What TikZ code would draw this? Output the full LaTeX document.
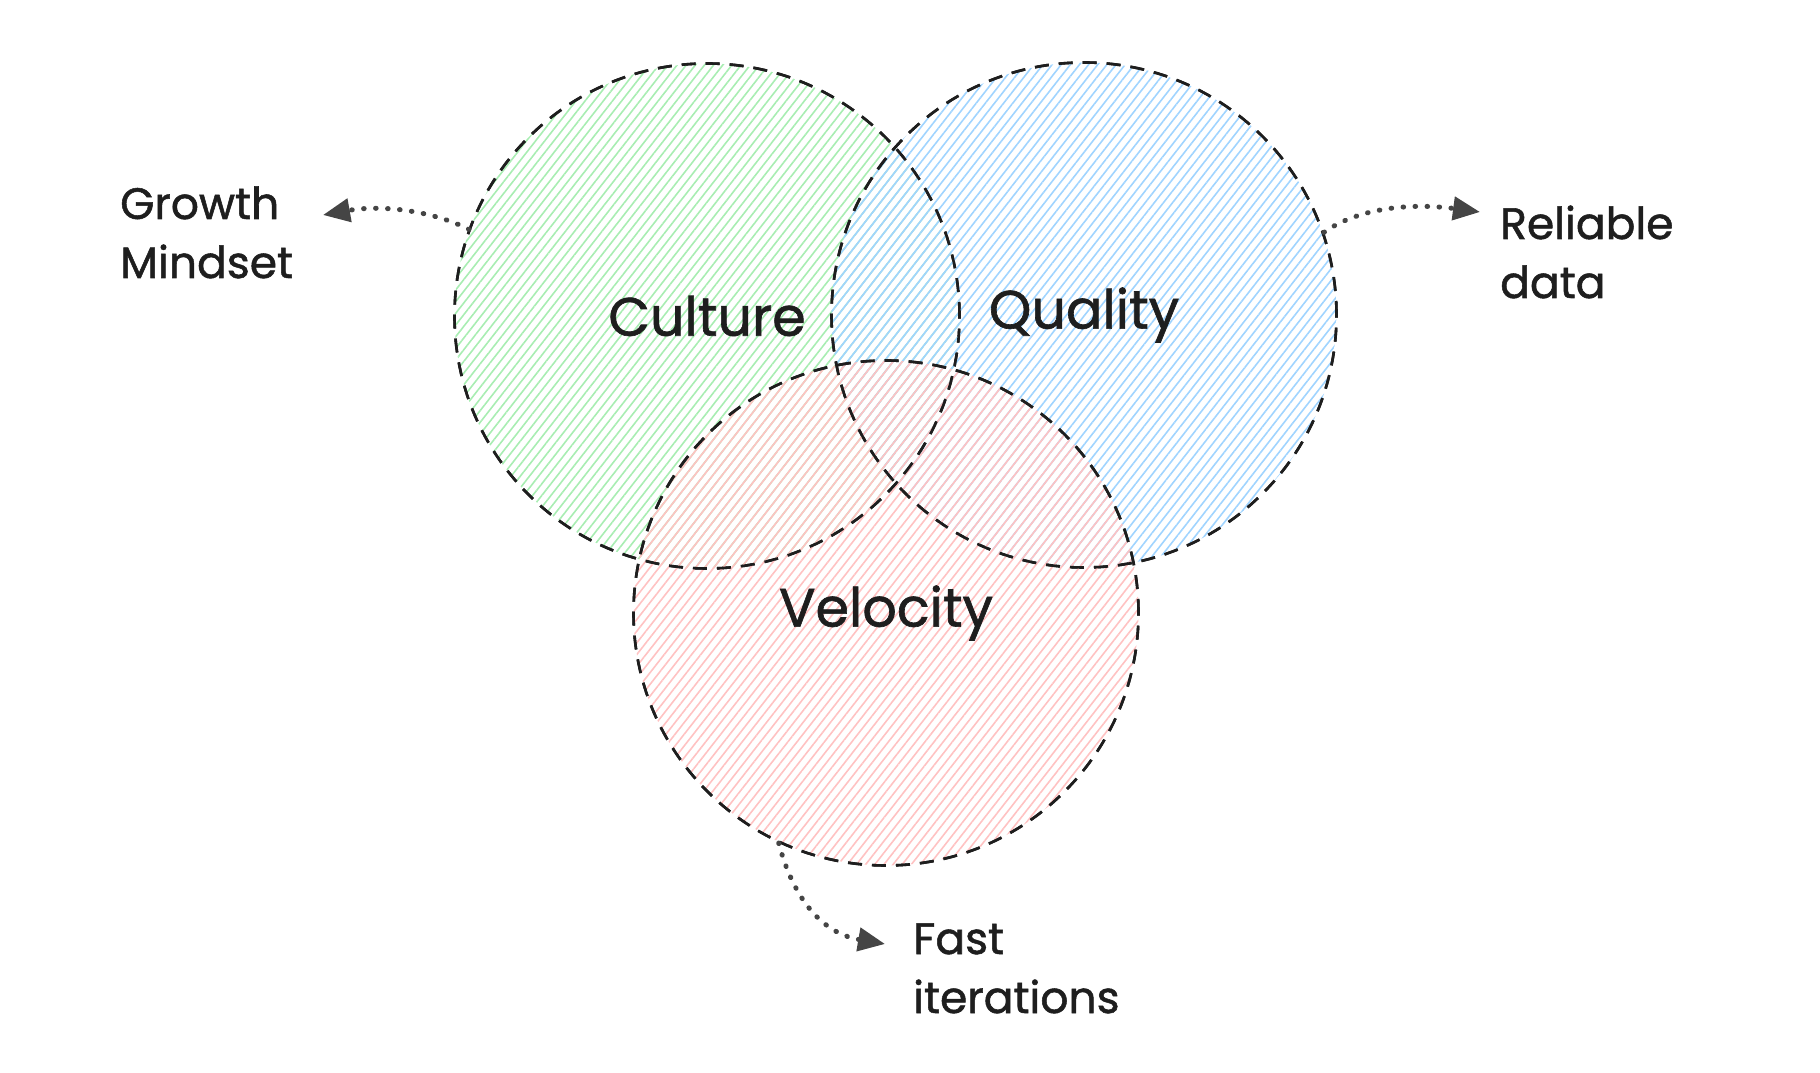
\documentclass[tikz,border=0pt]{standalone}
\usepackage{fontspec}
\setmainfont{Poppins}[FakeBold=1.2]
\usetikzlibrary{patterns.meta,arrows.meta}
\definecolor{ink}{HTML}{1E1E1E}
\definecolor{arrowink}{HTML}{454545}
\definecolor{hgreen}{HTML}{A8EDB2}
\definecolor{hblue}{HTML}{A0D4FF}
\definecolor{hred}{HTML}{FFC2C2}
\tikzset{
  venn/.style={circle, draw=ink, line width=2.6pt, dash pattern=on 14pt off 10pt,
    minimum size=505pt, inner sep=0pt, font=\fontsize{54pt}{60pt}\selectfont, text=ink},
  hatch/.style={pattern={Lines[angle=52,distance=7.2pt,line width=1.6pt]}, pattern color=#1},
  sidelabel/.style={align=left, anchor=base west, inner sep=0pt, text=ink,
    font=\fontsize{44pt}{59pt}\selectfont},
  callout/.style={draw=arrowink, line width=5pt, line cap=round,
    dash pattern=on 0.6pt off 11.4pt,
    -{Triangle[length=27pt,width=23pt]}, fill=none},
}
\begin{document}
\begin{tikzpicture}[x=1pt,y=1pt]
\useasboundingbox (0,0) rectangle (1820,1072);
\node[venn, hatch=hgreen] (culture) at (707,756) {Culture};
\node[venn, hatch=hblue] (quality) at (1084,757) {Quality};
\node[venn, hatch=hred] (velocity) at (886,459) {Velocity};
% redraw outlines on top of overlapping hatch
\node[venn, fill=none] at (culture) {};
\node[venn, fill=none] at (quality) {};
\node[venn, fill=none] at (velocity) {};
\node[sidelabel] (growth) at (120,794) {Growth\\Mindset};
\node[sidelabel] (reliable) at (1500,774) {Reliable\\data};
\node[sidelabel] (fast) at (913,59) {Fast\\iterations};
\coordinate (growthtip) at (323,857);
\coordinate (reliabletip) at (1480,860);
\coordinate (fasttip) at (885,128);
\draw[callout] (culture.160.7) .. controls (435,860) and (385,868) .. (growthtip);
\draw[callout] (quality.19.2) .. controls (1355,862) and (1405,870) .. (reliabletip);
\draw[callout] (velocity.-115.6) .. controls (790,185) and (815,140) .. (fasttip);
\end{tikzpicture}
\end{document}
